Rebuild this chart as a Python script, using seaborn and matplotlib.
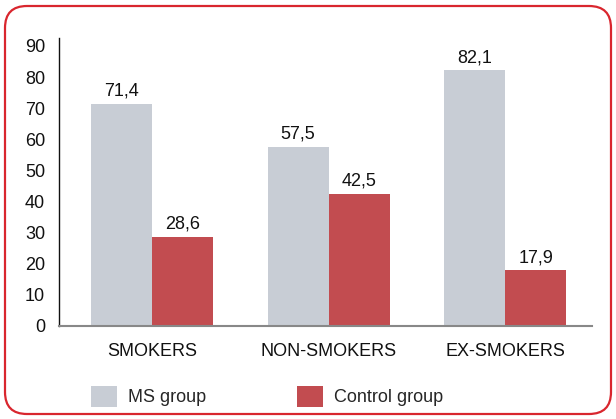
import pandas as pd
import matplotlib
matplotlib.use("Agg")
import matplotlib.pyplot as plt
from matplotlib.patches import FancyBboxPatch
import seaborn as sns

# Data
categories = ["SMOKERS", "NON-SMOKERS", "EX-SMOKERS"]
ms_group = [71.4, 57.5, 82.1]
control_group = [28.6, 42.5, 17.9]
groups = ["MS group", "Control group"]
yticks = [0, 10, 20, 30, 40, 50, 60, 70, 80, 90]

df = pd.DataFrame({
    "category": categories * 2,
    "value": ms_group + control_group,
    "group": [groups[0]] * 3 + [groups[1]] * 3,
})

sns.set_style("white")
plt.rcParams["font.family"] = ["Liberation Sans Narrow", "Liberation Sans", "DejaVu Sans"]

fig = plt.figure(figsize=(6.16, 4.19), dpi=100)
ax = fig.add_axes([0.096, 0.222, 0.865, 0.687])

sns.barplot(
    data=df,
    x="category",
    y="value",
    hue="group",
    palette=["#C8CDD5", "#C24C50"],
    width=0.69,
    saturation=1,
    linewidth=0,
    ax=ax,
)

for cont in ax.containers:
    ax.bar_label(
        cont,
        labels=[f"{v:.1f}".replace(".", ",") for v in cont.datavalues],
        padding=3,
        fontsize=13,
        color="#111111",
    )

ax.set_xlim(-0.525, 2.49)
ax.set_ylim(0, 92.5)
ax.set_yticks(yticks)
ax.set_xlabel("")
ax.set_ylabel("")
ax.tick_params(axis="both", length=0, labelsize=13, colors="#111111")
ax.tick_params(axis="x", pad=12)
ax.tick_params(axis="y", pad=10)

for side in ["top", "right"]:
    ax.spines[side].set_visible(False)
ax.spines["left"].set_color("#111111")
ax.spines["left"].set_linewidth(1.0)
ax.spines["bottom"].set_color("#888888")
ax.spines["bottom"].set_linewidth(1.5)

handles, labels = ax.get_legend_handles_labels()
ax.legend(
    handles,
    labels,
    loc="center left",
    bbox_to_anchor=(0.06, -0.245),
    ncol=2,
    frameon=False,
    fontsize=13,
    handlelength=1.45,
    handleheight=1.45,
    handletextpad=0.6,
    columnspacing=5.0,
    borderaxespad=0,
    borderpad=0,
)

# Rounded red frame around the whole figure
frame = FancyBboxPatch(
    (0.05, 0.05), 6.06, 4.08,
    boxstyle="round,pad=0,rounding_size=0.22",
    transform=fig.dpi_scale_trans,
    facecolor="none",
    edgecolor="#D9262E",
    linewidth=1.6,
)
fig.patches.append(frame)

fig.savefig("out.png", dpi=100)
plt.close(fig)
